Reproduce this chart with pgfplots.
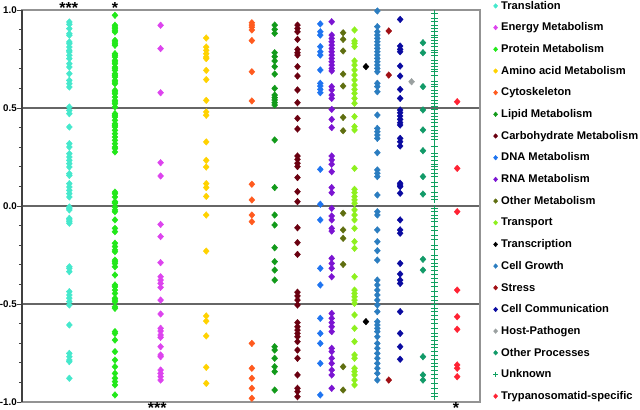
\documentclass[border=0pt]{standalone}
\usepackage{pgfplots}
\pgfplotsset{compat=1.18}
\usepackage{fontspec}
\setmainfont{Liberation Sans}
\definecolor{cTrans}{HTML}{45E8CC}
\definecolor{cEnergy}{HTML}{DD44EE}
\definecolor{cProt}{HTML}{22E81A}
\definecolor{cAmino}{HTML}{FFD200}
\definecolor{cCyto}{HTML}{FF5A1E}
\definecolor{cLipid}{HTML}{129A1A}
\definecolor{cCarb}{HTML}{6A0010}
\definecolor{cDNA}{HTML}{1E74F0}
\definecolor{cRNA}{HTML}{7B14D2}
\definecolor{cOthMet}{HTML}{5F6E10}
\definecolor{cTransp}{HTML}{8EF01E}
\definecolor{cTranscr}{HTML}{000000}
\definecolor{cCG}{HTML}{2B7DC0}
\definecolor{cStress}{HTML}{A00F14}
\definecolor{cCC}{HTML}{0A0AA0}
\definecolor{cHP}{HTML}{9AA0A0}
\definecolor{cOP}{HTML}{129A68}
\definecolor{cUnk}{HTML}{10A060}
\definecolor{cTryp}{HTML}{FF2233}
\pgfplotsset{dm/.style={only marks, mark=diamond*, mark size=3.3bp, color=#1,
  mark options={xscale=1.2},
  legend image code/.code={\draw[##1, mark size=2.3bp] plot coordinates {(0bp,0bp)};}},
  unk/.style={only marks, mark=+, mark size=3.5bp, color=cUnk, line width=0.9bp,
  legend image code/.code={\draw[##1, mark size=2.6bp, line width=0.6bp] plot coordinates {(0bp,0bp)};}}}
\begin{document}
\begin{tikzpicture}
\begin{axis}[name=ax,
  scale only axis, width=458bp, height=392bp,
  xmin=-0.15, xmax=40, ymin=-1, ymax=1,
  clip=false,
  xtick=\empty,
  ytick={-1,-0.5,0,0.5,1},
  minor y tick num=4,
  ytick pos=left, tick align=outside,
  major tick length=5bp, minor tick length=3bp,
  tick style={black!75, line width=0.8bp},
  ymajorgrids, major grid style={gray!80!black, line width=1.1bp},
  axis line style={gray!85, line width=1.1bp},
  yticklabel style={font=\fontsize{9.8}{12}\selectfont\bfseries, inner sep=0pt, /pgf/number format/.cd, fixed, fixed zerofill, precision=1, assume math mode=true},
  legend cell align=left,
  legend style={at={(1,1)}, anchor=north west, xshift=12.8bp, yshift=11bp,
    draw=none, fill=none, inner sep=0pt,
    font=\fontsize{11.2}{13}\selectfont\bfseries,
    row sep=8.2bp,
    /tikz/every odd column/.append style={column sep=1bp},
    /tikz/every even column/.append style={text height=8bp, text depth=2.5bp, inner sep=0pt}},
]
\addplot[dm=cTrans] coordinates {(4,0.939)(4,0.927)(4,0.905)(4,0.879)(4,0.871)(4,0.837)(4,0.828)(4,0.811)(4,0.794)(4,0.786)(4,0.769)(4,0.752)(4,0.726)(4,0.709)(4,0.675)(4,0.641)(4,0.624)(4,0.607)(4,0.505)(4,0.488)(4,0.471)(4,0.403)(4,0.318)(4,0.301)(4,0.267)(4,0.25)(4,0.233)(4,0.216)(4,0.199)(4,0.165)(4,0.156)(4,0.114)(4,0.097)(4,0.080)(4,0.063)(4,0.046)(4,-0.005)(4,-0.012)(4,-0.02)(4,-0.063)(4,-0.071)(4,-0.08)(4,-0.088)(4,-0.31)(4,-0.318)(4,-0.335)(4,-0.437)(4,-0.454)(4,-0.47)(4,-0.488)(4,-0.505)(4,-0.607)(4,-0.752)(4,-0.769)(4,-0.786)(4,-0.794)(4,-0.879)};
\addlegendentry{Translation}
\addplot[dm=cEnergy] coordinates {(12,0.922)(12,0.803)(12,0.578)(12,0.221)(12,0.153)(12,-0.094)(12,-0.156)(12,-0.289)(12,-0.361)(12,-0.378)(12,-0.395)(12,-0.415)(12,-0.480)(12,-0.551)(12,-0.624)(12,-0.638)(12,-0.658)(12,-0.670)(12,-0.718)(12,-0.760)(12,-0.769)(12,-0.837)(12,-0.854)(12,-0.871)(12,-0.888)};
\addlegendentry{Energy Metabolism}
\addplot[dm=cProt] coordinates {(8,0.973)(8,0.922)(8,0.913)(8,0.905)(8,0.896)(8,0.888)(8,0.845)(8,0.837)(8,0.828)(8,0.820)(8,0.777)(8,0.769)(8,0.760)(8,0.743)(8,0.735)(8,0.726)(8,0.709)(8,0.701)(8,0.692)(8,0.675)(8,0.667)(8,0.658)(8,0.641)(8,0.633)(8,0.624)(8,0.590)(8,0.582)(8,0.573)(8,0.556)(8,0.539)(8,0.531)(8,0.522)(8,0.505)(8,0.471)(8,0.463)(8,0.454)(8,0.437)(8,0.420)(8,0.412)(8,0.403)(8,0.386)(8,0.369)(8,0.352)(8,0.335)(8,0.318)(8,0.301)(8,0.293)(8,0.276)(8,0.071)(8,0.063)(8,0.046)(8,0.020)(8,-0.005)(8,0.022)(8,0.014)(8,-0.020)(8,-0.029)(8,-0.071)(8,-0.114)(8,-0.131)(8,-0.190)(8,-0.207)(8,-0.224)(8,-0.233)(8,-0.276)(8,-0.284)(8,-0.293)(8,-0.310)(8,-0.352)(8,-0.403)(8,-0.412)(8,-0.429)(8,-0.446)(8,-0.471)(8,-0.480)(8,-0.488)(8,-0.514)(8,-0.522)(8,-0.641)(8,-0.650)(8,-0.684)(8,-0.743)(8,-0.786)(8,-0.820)(8,-0.854)(8,-0.879)(8,-0.896)(8,-0.913)(8,-0.964)};
\addlegendentry{Protein Metabolism}
\addplot[dm=cAmino] coordinates {(16,0.857)(16,0.811)(16,0.794)(16,0.777)(16,0.760)(16,0.752)(16,0.692)(16,0.645)(16,0.539)(16,0.480)(16,0.463)(16,0.327)(16,0.233)(16,0.199)(16,0.114)(16,0.094)(16,0.049)(16,-0.046)(16,-0.230)(16,-0.561)(16,-0.587)(16,-0.663)(16,-0.823)(16,-0.905)};
\addlegendentry{Amino acid Metabolism}
\addplot[dm=cCyto] coordinates {(20,0.935)(20,0.923)(20,0.912)(20,0.898)(20,0.844)(20,0.685)(20,0.536)(20,0.111)(20,0.031)(20,-0.046)(20,-0.080)(20,-0.701)(20,-0.828)(20,-0.879)(20,-0.930)(20,-0.981)};
\addlegendentry{Cytoskeleton}
\addplot[dm=cLipid] coordinates {(22,0.923)(22,0.901)(22,0.881)(22,0.782)(22,0.762)(22,0.740)(22,0.711)(22,0.673)(22,0.600)(22,0.566)(22,0.553)(22,0.541)(22,0.527)(22,0.515)(22,0.337)(22,0.094)(22,-0.046)(22,-0.097)(22,-0.213)(22,-0.284)(22,-0.327)(22,-0.378)(22,-0.718)(22,-0.735)(22,-0.777)(22,-0.820)(22,-0.845)(22,-0.939)};
\addlegendentry{Lipid Metabolism}
\addplot[dm=cCarb] coordinates {(24,0.923)(24,0.906)(24,0.889)(24,0.850)(24,0.799)(24,0.782)(24,0.770)(24,0.711)(24,0.663)(24,0.592)(24,0.527)(24,0.447)(24,0.393)(24,0.255)(24,0.238)(24,0.218)(24,0.201)(24,0.145)(24,0.073)(24,0.022)(24,-0.111)(24,-0.187)(24,-0.247)(24,-0.440)(24,-0.459)(24,-0.480)(24,-0.505)(24,-0.595)(24,-0.616)(24,-0.633)(24,-0.650)(24,-0.667)(24,-0.692)(24,-0.735)(24,-0.777)(24,-0.862)(24,-0.930)(24,-0.947)(24,-0.973)};
\addlegendentry{Carbohydrate Metabolism}
\addplot[dm=cDNA] coordinates {(26,0.929)(26,0.889)(26,0.872)(26,0.813)(26,0.787)(26,0.770)(26,0.694)(26,0.626)(26,0.612)(26,0.595)(26,0.578)(26,0.187)(26,0.009)(26,-0.071)(26,-0.318)(26,-0.403)(26,-0.573)(26,-0.650)(26,-0.701)(26,-0.803)(26,-0.964)};
\addlegendentry{DNA Metabolism}
\addplot[dm=cRNA] coordinates {(27,0.940)(27,0.872)(27,0.855)(27,0.838)(27,0.821)(27,0.804)(27,0.787)(27,0.770)(27,0.753)(27,0.736)(27,0.719)(27,0.702)(27,0.689)(27,0.609)(27,0.592)(27,0.566)(27,0.549)(27,0.493)(27,0.442)(27,0.400)(27,0.255)(27,0.235)(27,0.213)(27,0.175)(27,0.094)(27,0.068)(27,-0.012)(27,-0.051)(27,-0.071)(27,-0.114)(27,-0.128)(27,-0.267)(27,-0.293)(27,-0.318)(27,-0.361)(27,-0.548)(27,-0.573)(27,-0.595)(27,-0.616)(27,-0.641)(27,-0.726)(27,-0.743)(27,-0.777)(27,-0.803)(27,-0.837)(27,-0.862)(27,-0.930)};
\addlegendentry{RNA Metabolism}
\addplot[dm=cOthMet] coordinates {(28,0.884)(28,0.850)(28,0.791)(28,0.673)(28,0.612)(28,0.452)(28,0.384)(28,-0.037)(28,-0.122)(28,-0.165)(28,-0.298)(28,-0.820)(28,-0.939)};
\addlegendentry{Other Metabolism}
\addplot[dm=cTransp] coordinates {(29,0.898)(29,0.842)(29,0.830)(29,0.813)(29,0.740)(29,0.719)(29,0.694)(29,0.668)(29,0.643)(29,0.617)(29,0.595)(29,0.575)(29,0.549)(29,0.524)(29,0.456)(29,0.405)(29,0.388)(29,0.192)(29,0.085)(29,0.068)(29,0.048)(29,0.031)(29,0.014)(29,-0.020)(29,-0.046)(29,-0.071)(29,-0.114)(29,-0.182)(29,-0.216)(29,-0.361)(29,-0.429)(29,-0.446)(29,-0.463)(29,-0.480)(29,-0.497)(29,-0.556)(29,-0.624)(29,-0.692)(29,-0.760)(29,-0.777)(29,-0.828)(29,-0.845)(29,-0.862)(29,-0.888)(29,-0.913)};
\addlegendentry{Transport}
\addplot[dm=cTranscr] coordinates {(30,0.711)(30,-0.590)};
\addlegendentry{Transcription}
\addplot[dm=cCG] coordinates {(31,0.995)(31,0.915)(31,0.889)(31,0.872)(31,0.855)(31,0.838)(31,0.821)(31,0.804)(31,0.787)(31,0.770)(31,0.753)(31,0.736)(31,0.719)(31,0.702)(31,0.685)(31,0.626)(31,0.609)(31,0.583)(31,0.464)(31,0.396)(31,0.379)(31,0.362)(31,0.345)(31,0.272)(31,0.184)(31,0.167)(31,0.150)(31,0.056)(31,-0.029)(31,-0.046)(31,-0.122)(31,-0.182)(31,-0.228)(31,-0.276)(31,-0.378)(31,-0.403)(31,-0.429)(31,-0.454)(31,-0.480)(31,-0.505)(31,-0.539)(31,-0.590)(31,-0.607)(31,-0.624)(31,-0.641)(31,-0.667)(31,-0.701)(31,-0.726)(31,-0.752)(31,-0.777)(31,-0.803)(31,-0.828)(31,-0.854)(31,-0.888)};
\addlegendentry{Cell Growth}
\addplot[dm=cStress] coordinates {(32,0.893)(32,0.668)(32,-0.888)};
\addlegendentry{Stress}
\addplot[dm=cCC] coordinates {(33,0.952)(33,0.816)(33,0.799)(33,0.787)(33,0.714)(33,0.663)(33,0.595)(33,0.549)(33,0.490)(33,0.476)(33,0.459)(33,0.442)(33,0.425)(33,0.413)(33,0.345)(33,0.328)(33,0.306)(33,0.116)(33,0.107)(33,0.099)(33,0.065)(33,-0.071)(33,-0.122)(33,-0.139)(33,-0.293)(33,-0.347)(33,-0.378)(33,-0.395)(33,-0.539)(33,-0.650)(33,-0.718)(33,-0.782)};
\addlegendentry{Cell Communication}
\addplot[dm=cHP] coordinates {(34,0.634)};
\addlegendentry{Host-Pathogen}
\addplot[dm=cOP] coordinates {(35,0.833)(35,0.782)(35,0.609)(35,0.490)(35,0.388)(35,0.282)(35,0.150)(35,0.061)(35,-0.272)(35,-0.327)(35,-0.769)(35,-0.862)(35,-0.888)};
\addlegendentry{Other Processes}
\addplot[unk] coordinates {(36,0.983)(36,0.957)(36,0.940)(36,0.923)(36,0.906)(36,0.889)(36,0.872)(36,0.861)(36,0.847)(36,0.830)(36,0.813)(36,0.796)(36,0.782)(36,0.770)(36,0.745)(36,0.728)(36,0.711)(36,0.699)(36,0.685)(36,0.668)(36,0.634)(36,0.622)(36,0.609)(36,0.592)(36,0.575)(36,0.558)(36,0.541)(36,0.524)(36,0.510)(36,0.493)(36,0.473)(36,0.456)(36,0.442)(36,0.425)(36,0.405)(36,0.384)(36,0.371)(36,0.354)(36,0.337)(36,0.303)(36,0.269)(36,0.252)(36,0.231)(36,0.214)(36,0.201)(36,0.184)(36,0.167)(36,0.150)(36,0.119)(36,0.099)(36,0.068)(36,0.048)(36,0.034)(36,-0.012)(36,-0.029)(36,-0.046)(36,-0.063)(36,-0.080)(36,-0.105)(36,-0.126)(36,-0.148)(36,-0.173)(36,-0.199)(36,-0.224)(36,-0.250)(36,-0.272)(36,-0.293)(36,-0.310)(36,-0.327)(36,-0.347)(36,-0.369)(36,-0.391)(36,-0.412)(36,-0.437)(36,-0.463)(36,-0.480)(36,-0.500)(36,-0.522)(36,-0.539)(36,-0.556)(36,-0.578)(36,-0.599)(36,-0.624)(36,-0.650)(36,-0.667)(36,-0.687)(36,-0.704)(36,-0.721)(36,-0.743)(36,-0.760)(36,-0.782)(36,-0.803)(36,-0.820)(36,-0.837)(36,-0.857)(36,-0.879)(36,-0.905)(36,-0.930)(36,-0.956)(36,-0.973)};
\addlegendentry{Unknown}
\addplot[dm=cTryp] coordinates {(38,0.532)(38,0.192)(38,-0.029)(38,-0.429)(38,-0.565)(38,-0.629)(38,-0.811)(38,-0.828)(38,-0.871)};
\addlegendentry{Trypanosomatid-specific}
\draw[black!75, line width=1.1bp] (rel axis cs:0,0) -- (rel axis cs:0,1);
\node[anchor=base, font=\fontsize{16}{16}\selectfont\bfseries, yshift=-3.8bp] at (axis cs:3.95,1) {***};
\node[anchor=base, font=\fontsize{16}{16}\selectfont\bfseries, yshift=-3.8bp] at (axis cs:8,1) {*};
\node[anchor=base, font=\fontsize{16}{16}\selectfont\bfseries, yshift=-11.3bp] at (axis cs:11.7,-1) {***};
\node[anchor=base, font=\fontsize{16}{16}\selectfont\bfseries, yshift=-11.3bp] at (axis cs:37.9,-1) {*};
\end{axis}
\pgfresetboundingbox
\path[use as bounding box] ([shift={(-22bp,-8bp)}]ax.south west) rectangle ([shift={(160bp,10bp)}]ax.north east);
\end{tikzpicture}
\end{document}
